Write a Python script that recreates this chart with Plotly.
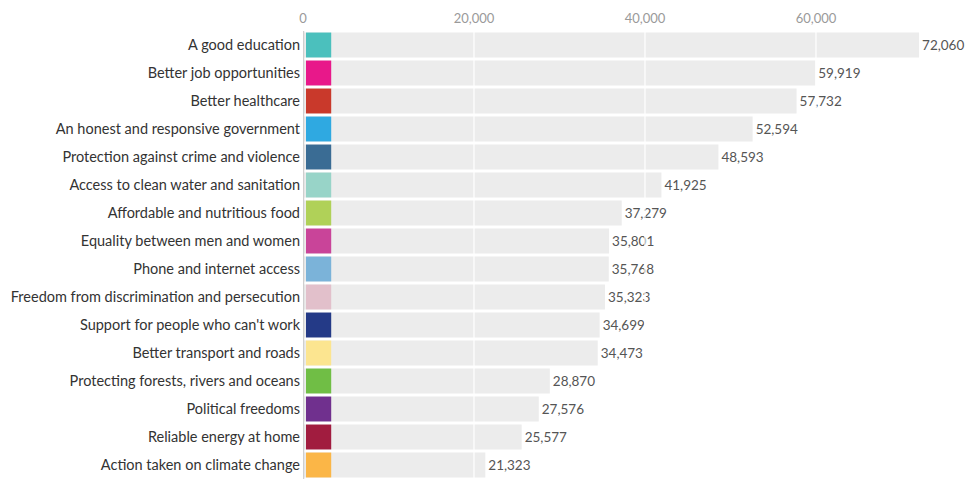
import plotly.graph_objects as go

categories = [
    "A good education",
    "Better job opportunities",
    "Better healthcare",
    "An honest and responsive government",
    "Protection against crime and violence",
    "Access to clean water and sanitation",
    "Affordable and nutritious food",
    "Equality between men and women",
    "Phone and internet access",
    "Freedom from discrimination and persecution",
    "Support for people who can't work",
    "Better transport and roads",
    "Protecting forests, rivers and oceans",
    "Political freedoms",
    "Reliable energy at home",
    "Action taken on climate change",
]
values = [72060, 59919, 57732, 52594, 48593, 41925, 37279, 35801,
          35768, 35323, 34699, 34473, 28870, 27576, 25577, 21323]
colors = ["#4bc0bd", "#e8188a", "#c9392b", "#2fa9e1", "#3a6c94", "#98d4c8",
          "#b0d158", "#c94499", "#7bb3d9", "#e2c0cb", "#243a87", "#fce590",
          "#70be45", "#70308e", "#a11c3f", "#fbb647"]
tick_vals = [0, 20000, 40000, 60000]
tick_text = ["0", "20,000", "40,000", "60,000"]

SWATCH = 2950  # width of the coloured square in axis units
FONT = "Lato, 'Open Sans', sans-serif"

fig = go.Figure()
fig.add_trace(go.Bar(
    y=categories, x=values, orientation="h",
    marker=dict(color="#ececec", line=dict(width=0)),
    text=[f"{v:,}" for v in values], textposition="outside",
    textfont=dict(family=FONT, size=13.5, color="#555555"),
    cliponaxis=False, hoverinfo="skip",
))
fig.add_trace(go.Bar(
    y=categories, x=[SWATCH] * len(categories), orientation="h",
    base=[350] * len(categories),
    marker=dict(color=colors, line=dict(width=0)),
    hoverinfo="skip",
))

shapes = []
for t in tick_vals[1:]:
    shapes.append(dict(type="line", xref="x", yref="paper", x0=t, x1=t, y0=0, y1=1,
                       line=dict(color="#ffffff", width=1.2), layer="above"))
shapes.append(dict(type="line", xref="x", yref="paper", x0=0, x1=0, y0=0, y1=1,
                   line=dict(color="#cfcfcf", width=2.5), layer="above"))

fig.update_layout(
    width=966, height=479,
    margin=dict(l=303, r=0, t=31, b=0),
    paper_bgcolor="white", plot_bgcolor="white",
    barmode="overlay", bargap=0.11, showlegend=False,
    font=dict(family=FONT, color="#333333"),
    shapes=shapes,
    xaxis=dict(range=[0, 77550], side="top", tickvals=tick_vals, ticktext=tick_text,
               showgrid=False, zeroline=False, showline=False, ticks="",
               tickfont=dict(family=FONT, size=13, color="#9a9a9a"), ticklabelstandoff=4),
    yaxis=dict(autorange="reversed", showgrid=False, zeroline=False, showline=False,
               ticks="", ticklabelstandoff=2,
               tickfont=dict(family=FONT, size=14.5, color="#333333")),
)

fig.write_html("out.html", config={"displayModeBar": False, "staticPlot": True},
               post_script="document.body.style.margin='0';document.body.style.overflow='hidden';")
